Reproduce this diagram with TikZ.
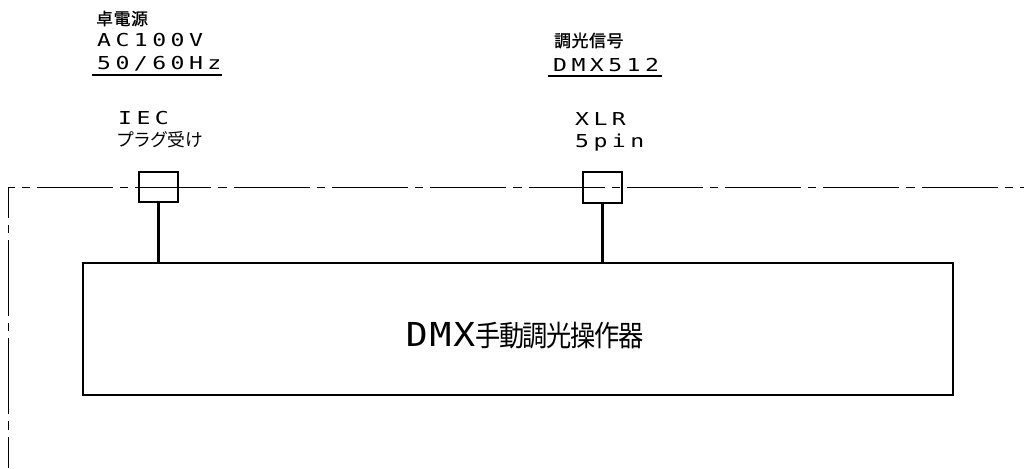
\documentclass[tikz,border=0pt]{standalone}
\usepackage{fontspec}
\newfontfamily\jp{Noto Sans CJK JP}
\newfontfamily\jpb{Noto Sans CJK JP}[FakeBold=1.2]
\newfontfamily\jpnarrow{Noto Sans CJK JP}[FakeStretch=0.87, LetterSpace=-5]
\newfontfamily\lat{DejaVu Sans Mono}[FakeStretch=1.3, LetterSpace=25]
\newfontfamily\latbig{DejaVu Sans Mono}[FakeStretch=1.1, LetterSpace=6]
\begin{document}
\begin{tikzpicture}[x=1pt,y=-1pt,
  chain/.style={line width=1pt, dash pattern=on 76pt off 7pt on 8.3pt off 7pt},
  conn/.style={draw, line width=2.2pt, inner sep=0pt},
  mainbox/.style={draw, line width=2pt, inner sep=0pt},
  wire/.style={line width=2.2pt},
  uline/.style={line width=2pt},
  latlbl/.style={inner sep=0pt, anchor=base west, font=\lat\fontsize{17.8}{20}\selectfont},
  toplbl/.style={inner sep=0pt, anchor=west, font=\jpb\addfontfeatures{LetterSpace=4}\fontsize{16.8}{18}\selectfont},
  jplbl/.style={inner sep=0pt, anchor=west, font=\jp\addfontfeatures{LetterSpace=-3}\fontsize{17.8}{19}\selectfont},
  bigtext/.style={inner sep=0pt, anchor=base}
]
\useasboundingbox (0,0) rectangle (1024,468);
% chain line (frame boundary)
\coordinate (corner) at (8,187);
\coordinate (rend) at (1024,187);
\coordinate (bend) at (8,468);
\draw[chain, dash phase=69.3] (corner) -- (rend);
\draw[chain, dash phase=45.3] (corner) -- (bend);
% connectors and main box
\node[conn, minimum width=39pt, minimum height=30pt] (iec) at (158.5,187) {};
\node[conn, minimum width=39pt, minimum height=31pt] (xlr) at (602.5,187.5) {};
\node[mainbox, minimum width=870pt, minimum height=132pt] (main) at (518,329) {};
\node[bigtext] (mainlabel) at (524.5,346) {{\latbig\fontsize{33}{36}\selectfont DMX}{\jpnarrow\fontsize{29}{31}\selectfont 手動調光操作器}};
\draw[wire] (iec.south) -- (iec.south |- main.north);
\draw[wire] (xlr.south) -- (xlr.south |- main.north);
% power labels
\node[toplbl] (pwr) at (96,18.5) {卓電源};
\node[latlbl] (ac) at (97,47) {AC100V};
\node[latlbl] (hz) at (97,70) {50/60Hz};
\coordinate (u1a) at (92,75.5);
\coordinate (u1b) at (222,75.5);
\draw[uline] (u1a) -- (u1b);
% signal labels
\node[toplbl] (sig) at (554,40.5) {調光信号};
\node[latlbl] (dmx) at (553,72) {DMX512};
\coordinate (u2a) at (548,76);
\coordinate (u2b) at (662,76);
\draw[uline] (u2a) -- (u2b);
% connector labels
\node[latlbl] (iect) at (118,124.5) {IEC};
\node[jplbl] (plug) at (116,139.5) {プラグ受け};
\node[latlbl] (xlrt) at (575,125) {XLR};
\node[latlbl] (pin) at (575,147) {5pin};
\end{tikzpicture}
\end{document}
